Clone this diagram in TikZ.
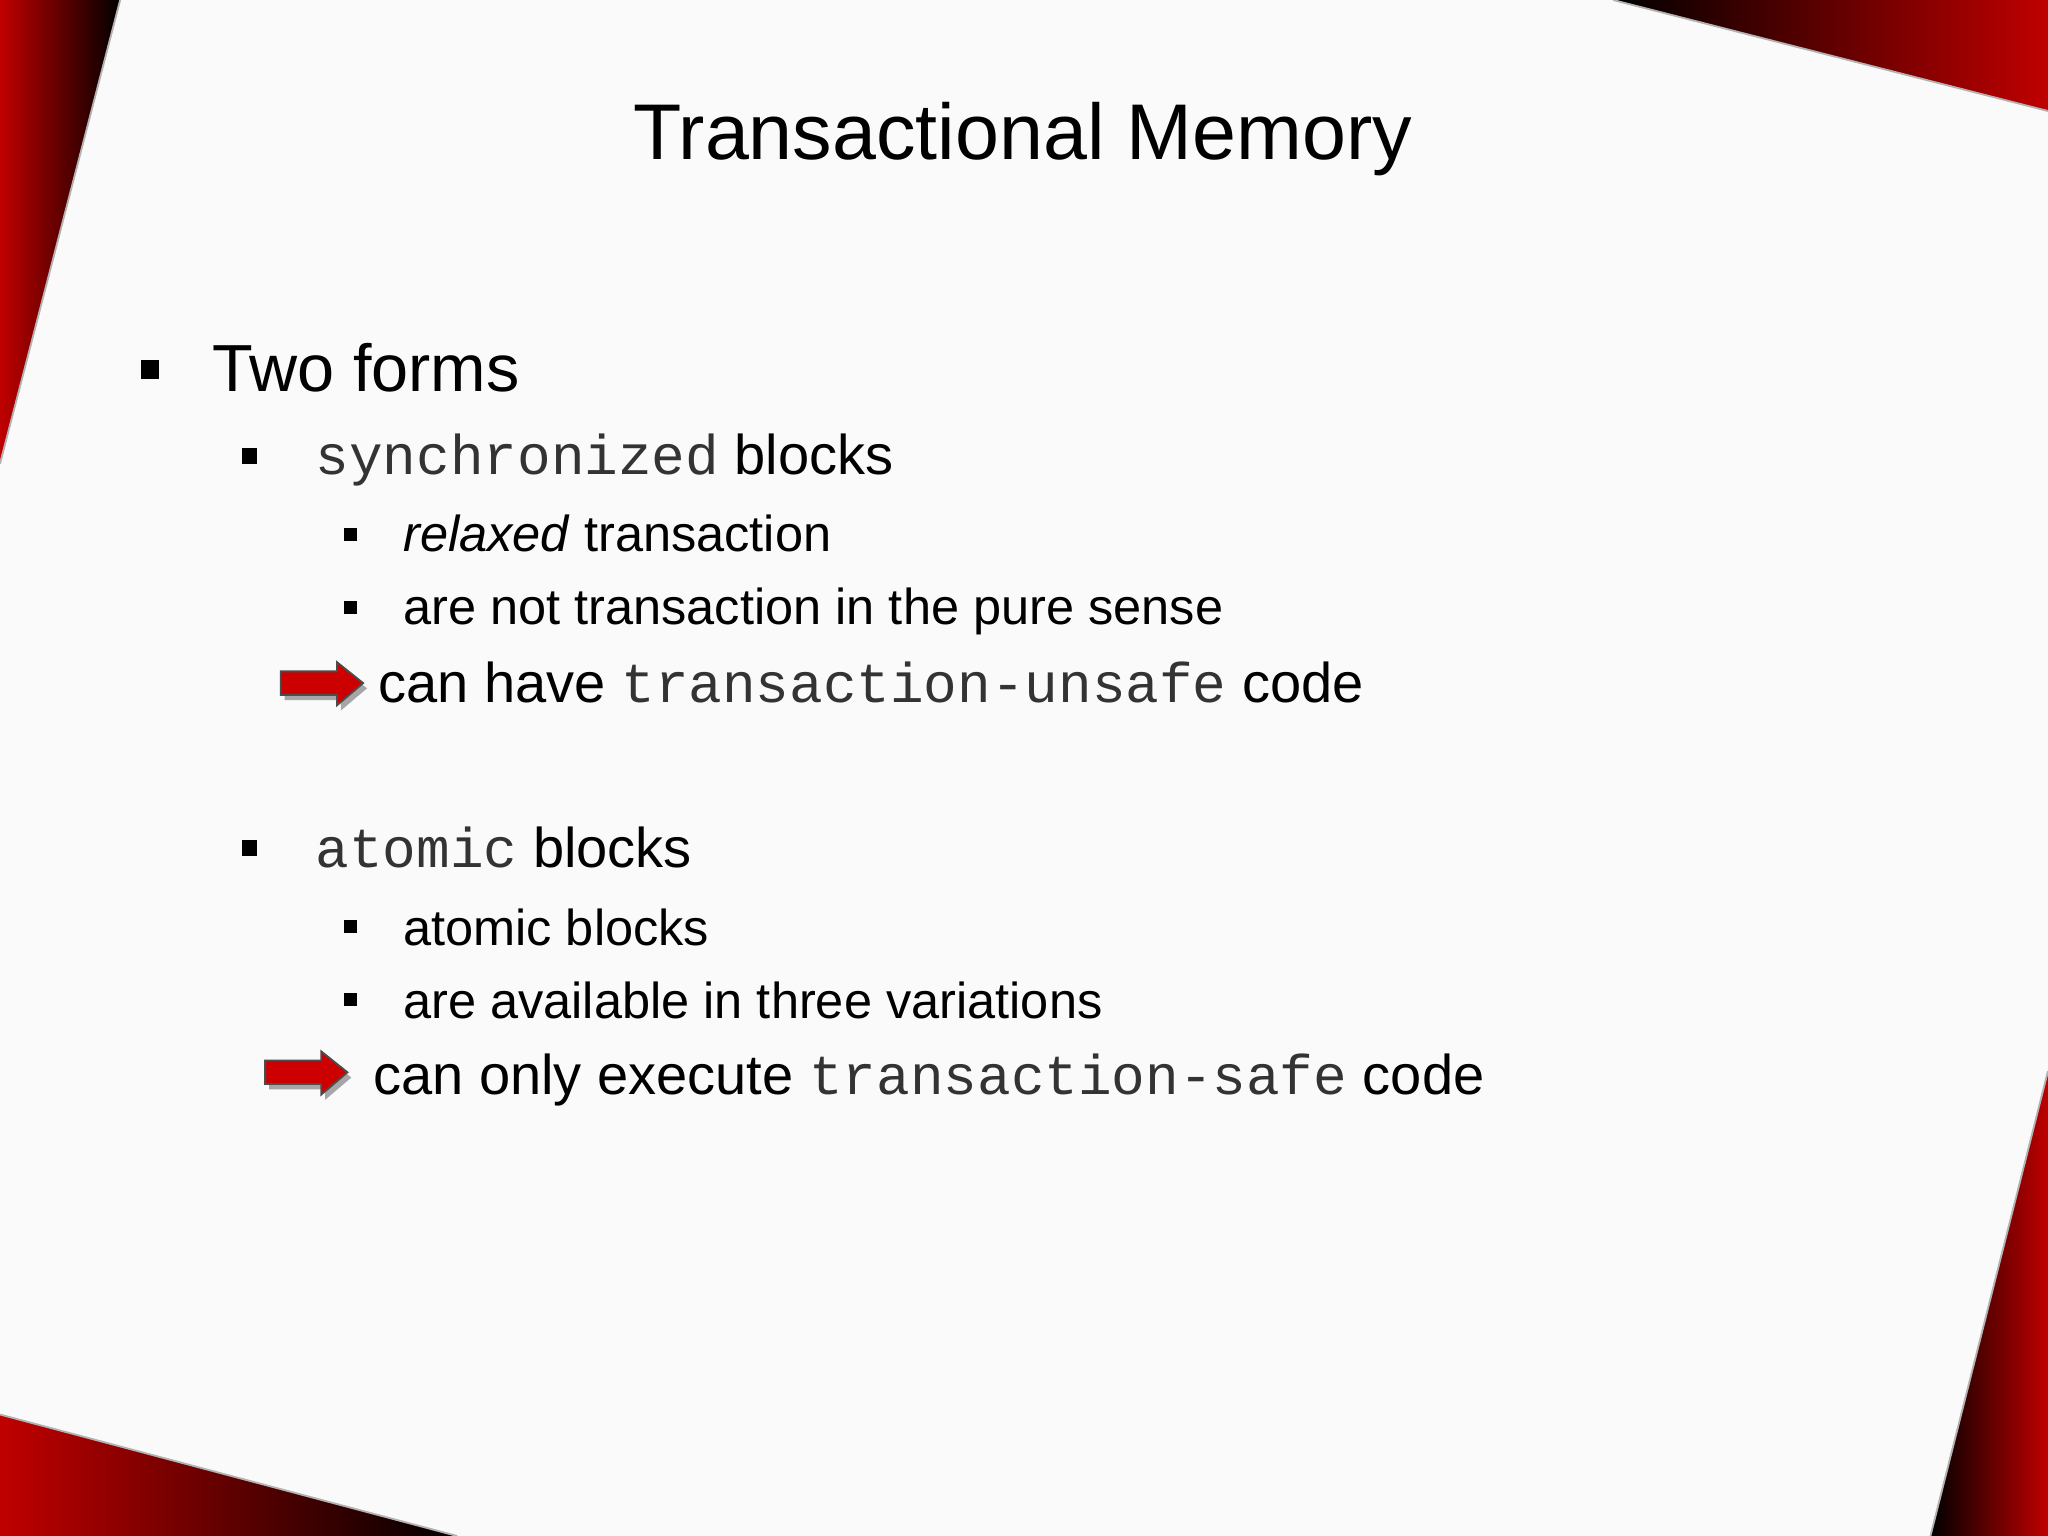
\documentclass[tikz,border=0pt]{standalone}
\usepackage{fontspec}
\setmainfont{Liberation Sans}
\setmonofont{Liberation Mono}
\begin{document}
\begin{tikzpicture}[x=0.01cm,y=-0.01cm,
  t1/.style={anchor=base west,inner sep=0pt,font=\fontsize{14.5}{16}\selectfont},
  t2/.style={anchor=base west,inner sep=0pt,font=\fontsize{12.2}{14}\selectfont},
  t3/.style={anchor=base west,inner sep=0pt,font=\fontsize{11}{13}\selectfont},
  bul/.style={fill=black}]
\fill[white!98!black] (0,0) rectangle (1568,1176);
\useasboundingbox (0,0) rectangle (1568,1176);
% corners
\shade[left color=red!75!black,right color=black] (0,0) -- (92,0) -- (0,355) -- cycle;
\draw[gray!60] (92,0) -- (0,355);
\shade[left color=black,right color=red!75!black] (1235,0) -- (1568,0) -- (1568,85) -- cycle;
\draw[gray!60] (1235,0) -- (1568,85);
\shade[left color=red!75!black,right color=black] (0,1083) -- (350,1176) -- (0,1176) -- cycle;
\draw[gray!60] (0,1083) -- (350,1176);
\shade[left color=black,right color=red!75!black] (1568,820) -- (1568,1176) -- (1478,1176) -- cycle;
\draw[gray!60] (1568,820) -- (1478,1176);
% title
\node[anchor=base,inner sep=0pt,font=\fontsize{17.2}{20}\selectfont] (title) at (783,122) {Transactional Memory};
% bullets
\fill[bul] (108,276) rectangle (122,290);
\node[t1] (l1) at (162,300) {Two forms};
\fill[bul] (185,343) rectangle (197,355);
\node[t2] (l2) at (241,363) {\texttt{\color{black!80}synchronized} blocks};
\fill[bul] (263,404) rectangle (273,414);
\node[t3] (l3) at (308,422) {\textit{relaxed} transaction};
\fill[bul] (263,460) rectangle (273,470);
\node[t3] (l4) at (308,478) {are not transaction in the pure sense};
\node[t2] (l5) at (289,538) {can have \texttt{\color{black!80}transaction-unsafe} code};
\fill[bul] (185,643) rectangle (197,655);
\node[t2] (l6) at (241,664) {\texttt{\color{black!80}atomic} blocks};
\fill[bul] (263,704) rectangle (273,714);
\node[t3] (l7) at (308,724) {atomic blocks};
\fill[bul] (263,760) rectangle (273,770);
\node[t3] (l8) at (308,780) {are available in three variations};
\node[t2] (l9) at (285,838) {can only execute \texttt{\color{black!80}transaction-safe} code};
% arrows
\foreach \x/\y in {215/507,203/805}{
  \begin{scope}[shift={(\x,\y)}]
  \fill[gray!70] (3,11) -- (46,11) -- (46,4) -- (66,20) -- (46,37) -- (46,29) -- (3,29) -- cycle;
  \draw[fill=red!80!black,draw=black!70] (0,7) -- (43,7) -- (43,0) -- (63,16) -- (43,33) -- (43,25) -- (0,25) -- cycle;
  \end{scope}}
\end{tikzpicture}
\end{document}
